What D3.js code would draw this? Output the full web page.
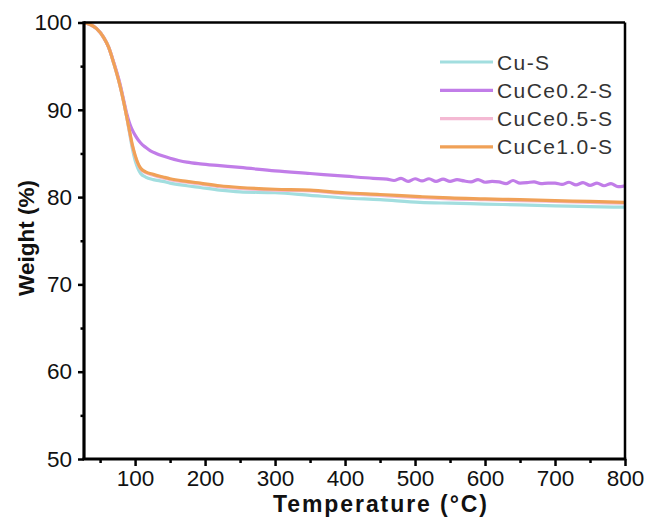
<!DOCTYPE html>
<html>
<head>
<meta charset="utf-8">
<script src="https://cdn.jsdelivr.net/npm/d3@7"></script>
<style>
  body { margin: 0; background: #fff; }
  text { font-family: "Liberation Sans", Arial, sans-serif; }
</style>
</head>
<body>
<div id="chart-area"></div>
<script>
let temps = [27, 35, 45, 55, 62, 70, 78, 84, 88, 92, 96, 100, 104, 108, 115, 126, 140, 150, 174, 193, 221, 250, 300, 350, 400, 450, 507, 550, 600, 650, 700, 750, 800];

let cuS =    [100, 99.8, 99.3, 98.3, 97.2, 95.2, 92.9, 90.8, 89.2, 87.4, 85.6, 84.2, 83.3, 82.7, 82.3, 82.0, 81.8, 81.6, 81.3, 81.1, 80.8, 80.6, 80.5, 80.2, 79.9, 79.7, 79.4, 79.3, 79.2, 79.1, 79.0, 78.9, 78.85];
let cuCe05 = [100, 99.8, 99.3, 98.3, 97.2, 95.2, 92.9, 90.8, 89.2, 87.5, 85.9, 84.7, 83.8, 83.2, 82.8, 82.5, 82.2, 82.0, 81.7, 81.5, 81.2, 81.0, 80.8, 80.7, 80.4, 80.2, 79.95, 79.8, 79.7, 79.6, 79.5, 79.4, 79.3];
let cuCe10 = [100, 99.8, 99.3, 98.3, 97.2, 95.2, 92.9, 90.8, 89.2, 87.6, 86.0, 84.8, 83.9, 83.3, 82.9, 82.6, 82.3, 82.1, 81.8, 81.6, 81.3, 81.1, 80.9, 80.8, 80.5, 80.3, 80.05, 79.9, 79.8, 79.7, 79.6, 79.5, 79.4];

// CuCe0.2-S has its own (noisier) sampling
let tempsP = [27, 35, 45, 55, 62, 70, 78, 84, 88, 92, 96, 100, 104, 108, 115, 122, 130, 140, 150, 162, 174, 193, 221, 250, 300, 350, 400, 440,
              460, 470, 480, 490, 500, 510, 520, 530, 540, 550, 560, 570, 580, 590, 600, 610, 620, 630, 640, 650, 660, 670, 680, 690,
              700, 710, 720, 730, 740, 750, 760, 770, 780, 790, 800];
let cuCe02 = [100, 99.8, 99.3, 98.3, 97.2, 95.3, 93.1, 91.0, 89.6, 88.5, 87.7, 87.1, 86.6, 86.2, 85.7, 85.3, 85.0, 84.7, 84.45, 84.2, 84.0, 83.8, 83.6, 83.4, 83.0, 82.7, 82.4, 82.15,
              82.05, 81.9, 82.15, 81.8, 82.1, 81.85, 82.1, 81.8, 82.05, 81.8, 82.0, 81.85, 81.75, 82.0, 81.7, 81.8, 81.75, 81.55, 81.9, 81.6, 81.65, 81.75, 81.55, 81.6,
              81.6, 81.45, 81.7, 81.4, 81.65, 81.35, 81.6, 81.3, 81.55, 81.2, 81.3];

let seriesNames = ["Cu-S", "CuCe0.2-S", "CuCe0.5-S", "CuCe1.0-S"];
let seriesX = [temps, tempsP, temps, temps];
let seriesValues = [cuS, cuCe02, cuCe05, cuCe10];
let seriesColors = ["#a2dedf", "#c17de8", "#f4b9d3", "#f0a157"];

let xTicks = [100, 200, 300, 400, 500, 600, 700, 800];
let xMinor = [50, 150, 250, 350, 450, 550, 650, 750];
let yTicks = [50, 60, 70, 80, 90, 100];
let yMinor = [55, 65, 75, 85, 95];

let W = 648, H = 524;
let margin = {left: 84, right: 23, top: 22.5, bottom: 65};
let width = W - margin.left - margin.right,
    height = H - margin.top - margin.bottom;

let svg = d3.select("#chart-area")
    .append("svg")
    .attr("width", W)
    .attr("height", H);

let g = svg.append("g")
    .attr("transform", "translate(" + margin.left + "," + margin.top + ")");

let x = d3.scaleLinear().domain([27, 800]).range([0, width]);
let y = d3.scaleLinear().domain([50, 100]).range([height, 0]);

g.append("clipPath").attr("id", "clip")
    .append("rect").attr("width", width).attr("height", height);

// Lines
let line = d3.line()
    .x(function (d) { return x(d[0]); })
    .y(function (d) { return y(d[1]); })
    .curve(d3.curveMonotoneX);

seriesValues.forEach(function (vals, i) {
    g.append("path")
        .datum(seriesX[i].map(function (t, j) { return [t, vals[j]]; }))
        .attr("clip-path", "url(#clip)")
        .attr("fill", "none")
        .attr("stroke", seriesColors[i])
        .attr("stroke-width", 3.2)
        .attr("stroke-linejoin", "round")
        .attr("d", line);
});

// X Axis
g.append("g")
    .attr("transform", "translate(0," + height + ")")
    .call(d3.axisBottom(x).tickValues(xTicks).tickSize(7).tickPadding(4).tickFormat(d3.format("d")));
g.append("g")
    .attr("transform", "translate(0," + height + ")")
    .call(d3.axisBottom(x).tickValues(xMinor).tickSize(4).tickFormat(""));

// Y Axis
g.append("g")
    .call(d3.axisLeft(y).tickValues(yTicks).tickSize(6).tickPadding(6).tickFormat(d3.format("d")));
g.append("g")
    .call(d3.axisLeft(y).tickValues(yMinor).tickSize(3.5).tickFormat(""));

g.selectAll(".domain").remove();
g.selectAll(".tick line").attr("stroke", "#000").attr("stroke-width", 2.5);
g.selectAll(".tick text").attr("fill", "#111").attr("font-size", "22.5px");

// Frame
g.append("line").attr("x1", 0).attr("x2", width).attr("y1", 0).attr("y2", 0)
    .attr("stroke", "#000").attr("stroke-width", 2.5);
g.append("line").attr("x1", width).attr("x2", width).attr("y1", 0).attr("y2", height)
    .attr("stroke", "#000").attr("stroke-width", 2.5);
g.append("line").attr("x1", -1.5).attr("x2", width + 1.25).attr("y1", height).attr("y2", height)
    .attr("stroke", "#000").attr("stroke-width", 3.2);
g.append("line").attr("x1", 0).attr("x2", 0).attr("y1", -1.25).attr("y2", height)
    .attr("stroke", "#000").attr("stroke-width", 3.2);

// X Label
svg.append("text")
    .attr("x", 273)
    .attr("y", 512)
    .attr("font-size", "23px")
    .attr("font-weight", "bold")
    .attr("textLength", 214)
    .attr("lengthAdjust", "spacing")
    .attr("fill", "#111")
    .text("Temperature (°C)");

// Y Label
svg.append("text")
    .attr("transform", "translate(34,238) rotate(-90)")
    .attr("font-size", "22.5px")
    .attr("font-weight", "bold")
    .attr("text-anchor", "middle")
    .attr("fill", "#111")
    .text("Weight (%)");

// Legend
let legend = svg.append("g");
seriesNames.forEach(function (name, i) {
    let ly = 62 + i * 28.3;
    legend.append("line")
        .attr("x1", 440).attr("x2", 493)
        .attr("y1", ly).attr("y2", ly)
        .attr("stroke", seriesColors[i])
        .attr("stroke-width", 3.2);
    legend.append("text")
        .attr("x", 497)
        .attr("y", ly + 7.5)
        .attr("font-size", "21px")
        .attr("letter-spacing", "1.4px")
        .attr("fill", "#333")
        .text(name);
});
</script>
</body>
</html>
